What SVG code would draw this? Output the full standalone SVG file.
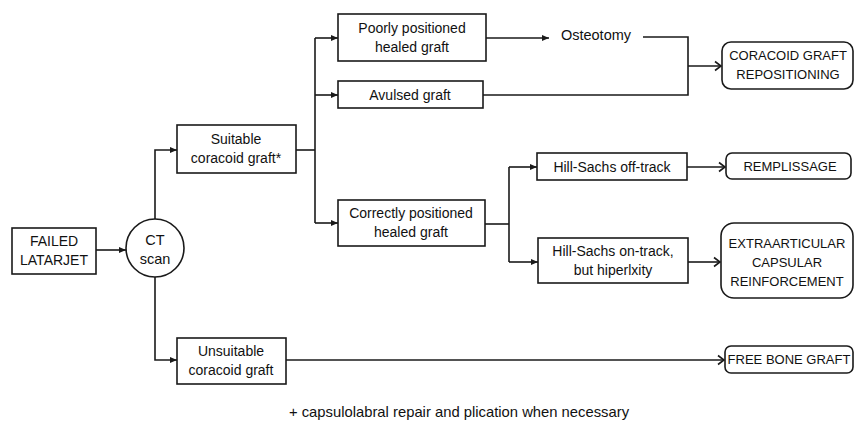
<svg xmlns="http://www.w3.org/2000/svg" width="854" height="421" viewBox="0 0 854 421">
<style>
.box{fill:#fff;stroke:#1a1a1a;stroke-width:1.6}
.t{font-family:"Liberation Sans",Arial,sans-serif;font-size:14px;fill:#111;text-anchor:middle}
.u{font-size:14.5px}
.c{font-size:13px}
.ln{fill:none;stroke:#1a1a1a;stroke-width:1.6}
</style>
<defs>
<marker id="tri" markerWidth="8" markerHeight="8" refX="7" refY="4" orient="auto" markerUnits="userSpaceOnUse">
<path d="M0,1 L7,4 L0,7 Z" fill="#1a1a1a"/>
</marker>
<marker id="chev" markerWidth="10" markerHeight="12" refX="8" refY="6" orient="auto" markerUnits="userSpaceOnUse">
<path d="M2,1.5 L8,6 L2,10.5" fill="none" stroke="#1a1a1a" stroke-width="1.6"/>
</marker>
</defs>
<rect width="854" height="421" fill="#fff"/>
<g id="connectors">
<path class="ln" d="M96,250 H126" marker-end="url(#tri)"/>
<path class="ln" d="M155,219 V150 H177" marker-end="url(#tri)"/>
<path class="ln" d="M155,277 V360 H177" marker-end="url(#tri)"/>
<path class="ln" d="M296,150 H315"/>
<path class="ln" d="M315,38 V223"/>
<path class="ln" d="M315,38 H338" marker-end="url(#tri)"/>
<path class="ln" d="M315,95 H338" marker-end="url(#tri)"/>
<path class="ln" d="M315,223 H338" marker-end="url(#tri)"/>
<path class="ln" d="M486,38 H549" marker-end="url(#tri)"/>
<path class="ln" d="M643,37 H688 V95 H483"/>
<path class="ln" d="M688,66 H721" marker-end="url(#chev)"/>
<path class="ln" d="M485,224 H509"/>
<path class="ln" d="M509,167 V262"/>
<path class="ln" d="M509,167 H537" marker-end="url(#tri)"/>
<path class="ln" d="M509,262 H538" marker-end="url(#tri)"/>
<path class="ln" d="M687,167 H725" marker-end="url(#chev)"/>
<path class="ln" d="M688,262 H720" marker-end="url(#chev)"/>
<path class="ln" d="M286,360 H724" marker-end="url(#chev)"/>
</g>
<g id="failed">
<rect class="box" x="12" y="228" width="84" height="46"/>
<text class="t" x="54" y="246">FAILED</text>
<text class="t" x="54" y="265">LATARJET</text>
</g>
<g id="ct">
<circle class="box" cx="155" cy="248" r="29"/>
<text class="t u" x="155" y="245">CT</text>
<text class="t u" x="155" y="264">scan</text>
</g>
<g id="suitable">
<rect class="box" x="177" y="125" width="119" height="48"/>
<text class="t" x="236" y="144">Suitable</text>
<text class="t" x="236" y="163">coracoid graft*</text>
</g>
<g id="unsuitable">
<rect class="box" x="177" y="338" width="109" height="46"/>
<text class="t" x="231" y="356">Unsuitable</text>
<text class="t" x="231" y="375">coracoid graft</text>
</g>
<g id="poorly">
<rect class="box" x="338" y="14" width="148" height="47"/>
<text class="t" x="412" y="33">Poorly positioned</text>
<text class="t" x="412" y="52">healed graft</text>
</g>
<g id="avulsed">
<rect class="box" x="338" y="81" width="145" height="27"/>
<text class="t" x="410" y="100">Avulsed graft</text>
</g>
<g id="correct">
<rect class="box" x="338" y="200" width="147" height="46"/>
<text class="t" x="411" y="218">Correctly positioned</text>
<text class="t" x="411" y="237">healed graft</text>
</g>
<g id="osteotomy">
<text class="t u" x="596" y="40">Osteotomy</text>
</g>
<g id="offtrack">
<rect class="box" x="537" y="153" width="150" height="27"/>
<text class="t" x="612" y="172">Hill-Sachs off-track</text>
</g>
<g id="ontrack">
<rect class="box" x="538" y="238" width="150" height="45"/>
<text class="t" x="613" y="256">Hill-Sachs on-track,</text>
<text class="t" x="613" y="275">but hiperlxity</text>
</g>
<g id="coracoid">
<rect class="box" x="722" y="42" width="131" height="47" rx="9"/>
<text class="t c" x="788" y="60">CORACOID GRAFT</text>
<text class="t c" x="788" y="79">REPOSITIONING</text>
</g>
<g id="remplissage">
<rect class="box" x="726" y="153" width="125" height="26" rx="6"/>
<text class="t c" x="790" y="171">REMPLISSAGE</text>
</g>
<g id="extra">
<rect class="box" x="721" y="223" width="132" height="75" rx="13"/>
<text class="t c" x="787" y="248">EXTRAARTICULAR</text>
<text class="t c" x="787" y="267">CAPSULAR</text>
<text class="t c" x="787" y="286">REINFORCEMENT</text>
</g>
<g id="freebone">
<rect class="box" x="725" y="346" width="128" height="27" rx="6"/>
<text class="t c" x="789" y="364">FREE BONE GRAFT</text>
</g>
<g id="note">
<text class="t" x="459" y="417" style="font-size:14.8px">+ capsulolabral repair and plication when necessary</text>
</g>
</svg>
